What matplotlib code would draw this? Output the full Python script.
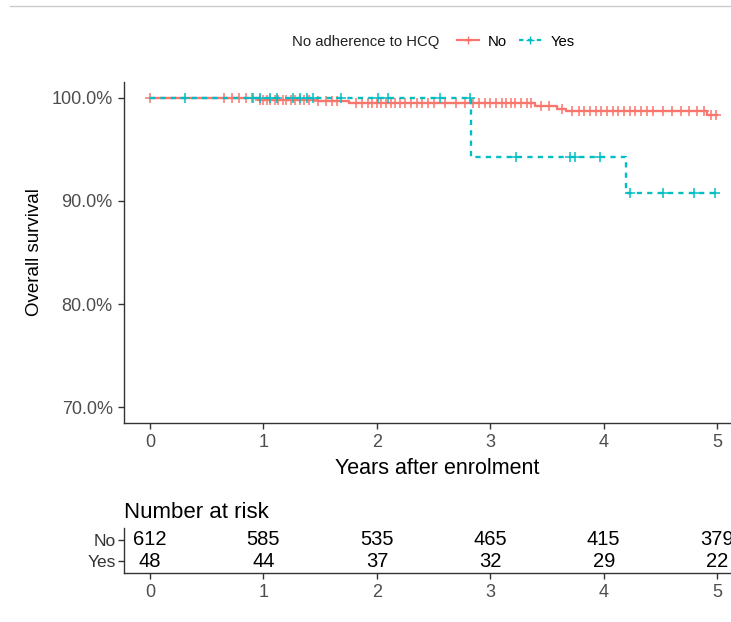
import matplotlib.pyplot as plt
import numpy as np
from matplotlib.lines import Line2D

plt.rcParams['font.family'] = ['Liberation Sans', 'DejaVu Sans']

# ---- Kaplan-Meier data (years, survival %)
grp_names = ['No', 'Yes']
grp_colors = ['#F8766D', '#00BFC4']

no_event_t = [0.0, 0.95, 1.48, 1.75, 3.39, 3.59, 3.67, 4.91]
no_event_s = [100.0, 99.84, 99.68, 99.51, 99.18, 98.95, 98.77, 98.35]
no_end = 5.0
no_censor = [0.0, 0.65, 0.72, 0.78, 0.85, 0.9, 0.97, 1.0, 1.03, 1.06, 1.1, 1.13,
             1.17, 1.2, 1.24, 1.28, 1.32, 1.36, 1.4, 1.48, 1.55, 1.6, 1.65, 1.82,
             1.87, 1.92, 1.96, 2.0, 2.04, 2.08, 2.12, 2.16, 2.2, 2.25, 2.3, 2.35,
             2.4, 2.45, 2.5, 2.6, 2.7, 2.78, 2.85, 2.9, 2.95, 3.0, 3.05, 3.1,
             3.14, 3.18, 3.22, 3.27, 3.32, 3.36, 3.45, 3.52, 3.63, 3.72, 3.78,
             3.83, 3.88, 3.93, 3.98, 4.03, 4.08, 4.13, 4.18, 4.23, 4.28, 4.33,
             4.38, 4.43, 4.52, 4.6, 4.68, 4.75, 4.82, 4.88, 4.95, 4.99]

yes_event_t = [0.0, 2.83, 4.2]
yes_event_s = [100.0, 94.3, 90.8]
yes_end = 4.98
yes_censor = [0.31, 0.91, 0.97, 1.06, 1.12, 1.26, 1.32, 1.38, 1.44, 1.68, 2.01,
              2.1, 2.56, 2.82, 3.23, 3.7, 3.75, 3.97, 4.23, 4.52, 4.8, 4.98]

# number at risk
risk_times = [0, 1, 2, 3, 4, 5]
risk_no = [612, 585, 535, 465, 415, 379]
risk_yes = [48, 44, 37, 32, 29, 22]

y_ticks = [70, 80, 90, 100]


def surv_at(t, ev_t, ev_s):
    i = np.searchsorted(ev_t, t, side='right') - 1
    return np.array(ev_s)[i]


fig = plt.figure(figsize=(7.31, 6.22), dpi=100)
ax = fig.add_axes([0.1696, 0.3207, 0.858, 0.5467])

curves = [(no_event_t, no_event_s, no_end, no_censor, '-'),
          (yes_event_t, yes_event_s, yes_end, yes_censor, (0, (2.2, 2.2)))]
for (et, es, tend, cens, ls), col in zip(curves, grp_colors):
    xs = list(et) + [tend]
    ys = list(es) + [es[-1]]
    ax.step(xs, ys, where='post', color=col, lw=1.7, ls=ls)
    cy = surv_at(np.array(cens), et, es)
    ax.plot(cens, cy, ls='none', marker='+', ms=7, mew=1.1, color=col)

ax.set_xlim(-0.23, 5.3)
ax.set_ylim(68.5, 101.5)
ax.set_yticks(y_ticks)
ax.set_yticklabels([f'{v:.1f}%' for v in y_ticks])
ax.set_xticks(risk_times)
ax.set_ylabel('Overall survival', fontsize=13.5, labelpad=6)
ax.set_xlabel('Years after enrolment', fontsize=15.5, labelpad=5)
for s in ['top', 'right']:
    ax.spines[s].set_visible(False)
for s in ['left', 'bottom']:
    ax.spines[s].set_linewidth(1.0)
    ax.spines[s].set_color('#333333')
ax.tick_params(labelsize=13, colors='#333333', labelcolor='#4D4D4D',
               length=4, width=1.0, pad=4)

# legend with title on the left
fig.text(0.40, 0.933, 'No adherence to HCQ', fontsize=10.7, color='#222222',
         ha='left', va='center')
handles = [Line2D([], [], color=grp_colors[0], lw=1.6, marker='+', ms=6),
           Line2D([], [], color=grp_colors[1], lw=1.6, ls=(0, (2, 2)), marker='+', ms=6)]
fig.legend(handles, grp_names, loc='center left', bbox_to_anchor=(0.615, 0.933),
           ncol=2, frameon=False, fontsize=10.7, handlelength=1.5,
           handletextpad=0.6, columnspacing=0.8, borderpad=0)

# ---- risk table
axr = fig.add_axes([0.1696, 0.0788, 0.858, 0.0723])
axr.set_xlim(-0.23, 5.3)
axr.set_ylim(-0.55, 1.55)
for t, n1, n2 in zip(risk_times, risk_no, risk_yes):
    axr.text(t, 1, str(n1), ha='center', va='center', fontsize=14.5, color='black')
    axr.text(t, 0, str(n2), ha='center', va='center', fontsize=14.5, color='black')
axr.set_yticks([1, 0])
axr.set_yticklabels(grp_names, fontsize=12.5)
for lab, col in zip(axr.get_yticklabels(), grp_colors):
    lab.set_color(col)
axr.set_xticks(risk_times)
axr.set_title('Number at risk', loc='left', fontsize=16, pad=7)
for s in ['top', 'right']:
    axr.spines[s].set_visible(False)
for s in ['left', 'bottom']:
    axr.spines[s].set_linewidth(1.0)
    axr.spines[s].set_color('#333333')
axr.tick_params(axis='x', labelsize=13, colors='#333333', labelcolor='#4D4D4D',
                length=4, width=1.0, pad=4)
axr.tick_params(axis='y', colors='#333333', length=4, width=1.0, pad=2)

# thin frame line at the top
fig.add_artist(Line2D([10 / 731, 1], [1 - 6 / 622, 1 - 6 / 622],
                      transform=fig.transFigure, color='#cccccc', lw=1))

fig.savefig('out.png', dpi=100)
